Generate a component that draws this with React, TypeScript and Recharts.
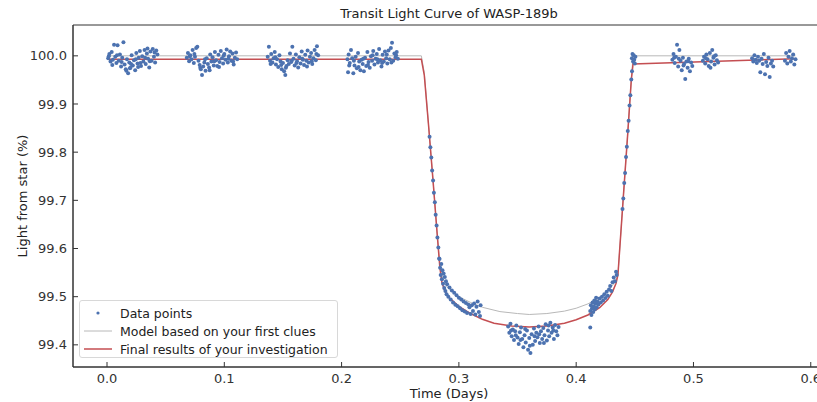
import React from 'react'
import { ComposedChart, Scatter, Line, XAxis, YAxis, ReferenceArea } from 'recharts'

type Pt = [number, number] // [time in days, light from star in %]

// Observed points, one array per observing chunk
const chunkA: Pt[] = [
  [0.001, 99.995], [0.0015, 99.999], [0.002, 100.004], [0.003, 99.988], [0.004, 100.008], [0.0045, 99.981],
  [0.005, 99.992], [0.006, 100.023], [0.007, 99.998], [0.008, 99.985], [0.0085, 100.001], [0.009, 100.022],
  [0.01, 99.99], [0.011, 100.003], [0.012, 99.978], [0.0125, 99.987], [0.013, 99.996], [0.014, 100.028],
  [0.015, 99.982], [0.016, 99.972], [0.0165, 99.969], [0.017, 99.993], [0.018, 99.964], [0.019, 99.986],
  [0.0195, 99.974], [0.02, 99.975], [0.0205, 99.983], [0.021, 100.001], [0.022, 99.98], [0.023, 99.991],
  [0.024, 99.97], [0.0245, 99.993], [0.025, 100.006], [0.026, 99.984], [0.0265, 99.977], [0.027, 99.996],
  [0.028, 100.01], [0.0285, 99.985], [0.029, 99.979], [0.03, 99.999], [0.031, 99.988], [0.032, 100.012],
  [0.0325, 99.996], [0.033, 99.983], [0.034, 100.005], [0.0345, 100.015], [0.035, 99.994], [0.036, 99.976],
  [0.0365, 99.989], [0.037, 100.009], [0.038, 99.99], [0.039, 100.014], [0.04, 99.998], [0.0405, 100.007],
  [0.041, 99.986], [0.042, 100.011], [0.043, 100.003],
]

const chunkB: Pt[] = [
  [0.068, 99.996], [0.069, 100.006], [0.07, 99.989], [0.0705, 99.999], [0.071, 100.001], [0.072, 99.993],
  [0.073, 100.012], [0.074, 99.985], [0.0745, 100.004], [0.075, 99.998], [0.076, 100.016], [0.077, 100.019],
  [0.078, 99.99], [0.079, 99.981], [0.0795, 99.975], [0.08, 99.972], [0.081, 99.96], [0.082, 99.978],
  [0.083, 99.986], [0.0835, 99.993], [0.084, 99.969], [0.085, 99.995], [0.086, 99.983], [0.087, 99.976],
  [0.0875, 99.97], [0.088, 100.003], [0.089, 99.988], [0.09, 99.997], [0.091, 99.98], [0.0915, 99.989],
  [0.092, 100.008], [0.093, 99.991], [0.094, 99.979], [0.095, 100.002], [0.0955, 99.977], [0.096, 99.987],
  [0.097, 100.01], [0.098, 99.995], [0.099, 99.984], [0.0995, 100.0], [0.1, 100.004], [0.101, 99.992],
  [0.102, 100.013], [0.103, 99.986], [0.1035, 99.994], [0.104, 99.999], [0.105, 100.009], [0.106, 99.99],
  [0.107, 100.005], [0.1075, 99.988], [0.108, 99.982], [0.109, 99.996], [0.11, 100.007], [0.111, 99.993],
]

const chunkC: Pt[] = [
  [0.137, 99.998], [0.138, 100.019], [0.139, 99.99], [0.1395, 99.983], [0.14, 100.004], [0.141, 99.986],
  [0.142, 99.995], [0.143, 100.008], [0.1435, 99.997], [0.144, 99.982], [0.145, 99.993], [0.146, 99.977],
  [0.147, 100.001], [0.148, 99.988], [0.1485, 99.981], [0.149, 99.972], [0.15, 99.985], [0.151, 99.968],
  [0.152, 99.96], [0.1525, 99.975], [0.153, 99.979], [0.154, 99.991], [0.155, 99.983], [0.156, 100.005],
  [0.157, 99.987], [0.1575, 99.99], [0.158, 100.019], [0.159, 99.994], [0.16, 99.98], [0.161, 100.003],
  [0.1615, 99.985], [0.162, 99.989], [0.163, 99.976], [0.164, 99.997], [0.165, 99.984], [0.166, 100.009],
  [0.1665, 99.994], [0.167, 99.992], [0.168, 99.981], [0.169, 100.002], [0.17, 99.99], [0.1705, 99.978],
  [0.171, 100.011], [0.172, 99.986], [0.173, 99.998], [0.174, 100.006], [0.1745, 99.989], [0.175, 99.983],
  [0.176, 99.995], [0.177, 100.012], [0.178, 99.991], [0.1785, 100.004], [0.179, 100.02], [0.18, 100.001],
]

const chunkD: Pt[] = [
  [0.205, 99.993], [0.2055, 99.966], [0.206, 100.003], [0.2065, 99.98], [0.207, 99.985], [0.208, 100.012],
  [0.209, 99.995], [0.21, 99.964], [0.2105, 99.99], [0.211, 99.98], [0.212, 99.998], [0.213, 99.974],
  [0.214, 100.006], [0.2145, 99.977], [0.215, 99.988], [0.216, 99.97], [0.217, 99.992], [0.218, 99.983],
  [0.2185, 99.994], [0.219, 99.968], [0.22, 99.996], [0.221, 99.979], [0.222, 100.008], [0.2225, 99.981],
  [0.223, 99.987], [0.224, 99.975], [0.225, 99.999], [0.226, 99.99], [0.2265, 100.001], [0.227, 100.01],
  [0.228, 99.982], [0.229, 99.994], [0.23, 100.004], [0.2305, 99.993], [0.231, 99.986], [0.232, 100.014],
  [0.233, 99.991], [0.234, 99.978], [0.2345, 99.985], [0.235, 100.002], [0.236, 99.988], [0.237, 100.009],
  [0.238, 99.995], [0.2385, 100.003], [0.239, 99.984], [0.24, 100.011], [0.241, 99.993], [0.242, 100.016],
  [0.2425, 99.986], [0.243, 100.027], [0.244, 99.99], [0.245, 100.005], [0.246, 99.997], [0.2465, 100.001],
  [0.247, 100.008], [0.248, 99.994],
]

const ingress: Pt[] = [
  [0.275, 99.832], [0.2757, 99.81], [0.2765, 99.789], [0.2772, 99.762], [0.278, 99.741], [0.2787, 99.716],
  [0.2795, 99.696], [0.2802, 99.67], [0.281, 99.648], [0.2817, 99.623], [0.2825, 99.602], [0.2832, 99.579],
]

const bottomEarly: Pt[] = [
  [0.2835, 99.578], [0.284, 99.56], [0.2845, 99.545], [0.285, 99.568], [0.2855, 99.536], [0.286, 99.555],
  [0.2865, 99.527], [0.287, 99.548], [0.2875, 99.518], [0.288, 99.541], [0.2885, 99.512], [0.289, 99.532],
  [0.2895, 99.505], [0.29, 99.526], [0.291, 99.5], [0.292, 99.519], [0.293, 99.494], [0.294, 99.513],
  [0.295, 99.488], [0.296, 99.508], [0.297, 99.483], [0.298, 99.503], [0.299, 99.48], [0.3, 99.498],
  [0.301, 99.476], [0.302, 99.494], [0.303, 99.472], [0.304, 99.49], [0.305, 99.469], [0.306, 99.487],
  [0.307, 99.466], [0.308, 99.484], [0.309, 99.478], [0.31, 99.464], [0.311, 99.482], [0.312, 99.47],
  [0.313, 99.486], [0.314, 99.463], [0.315, 99.479], [0.316, 99.49], [0.317, 99.468], [0.318, 99.46],
  [0.3185, 99.482],
]

const bottomMid: Pt[] = [
  [0.342, 99.438], [0.343, 99.425], [0.344, 99.444], [0.3445, 99.43], [0.345, 99.418], [0.346, 99.432],
  [0.347, 99.41], [0.348, 99.428], [0.3485, 99.42], [0.349, 99.44], [0.35, 99.415], [0.351, 99.402],
  [0.352, 99.426], [0.3525, 99.41], [0.353, 99.436], [0.354, 99.412], [0.355, 99.395], [0.356, 99.42],
  [0.3565, 99.433], [0.357, 99.405], [0.358, 99.43], [0.359, 99.39], [0.36, 99.414], [0.3605, 99.398],
  [0.361, 99.383], [0.362, 99.422], [0.363, 99.4], [0.364, 99.434], [0.3645, 99.418], [0.365, 99.408],
  [0.366, 99.425], [0.367, 99.416], [0.368, 99.438], [0.3685, 99.422], [0.369, 99.404], [0.37, 99.428],
  [0.371, 99.412], [0.372, 99.435], [0.3725, 99.404], [0.373, 99.42], [0.374, 99.443], [0.375, 99.409],
  [0.376, 99.43], [0.3765, 99.44], [0.377, 99.418], [0.378, 99.446], [0.379, 99.425], [0.38, 99.436],
  [0.3805, 99.43], [0.381, 99.412], [0.382, 99.441], [0.383, 99.428], [0.384, 99.42], [0.385, 99.437],
]

const bottomLate: Pt[] = [
  [0.412, 99.47], [0.412, 99.436], [0.4125, 99.482], [0.413, 99.462], [0.4135, 99.476], [0.414, 99.488],
  [0.4145, 99.468], [0.415, 99.48], [0.4155, 99.492], [0.416, 99.474], [0.4165, 99.486], [0.417, 99.498],
  [0.4175, 99.478], [0.418, 99.49], [0.419, 99.484], [0.42, 99.496], [0.421, 99.488], [0.422, 99.5],
  [0.423, 99.492], [0.424, 99.505], [0.425, 99.497], [0.426, 99.51], [0.427, 99.502], [0.428, 99.515],
  [0.429, 99.522], [0.43, 99.512], [0.431, 99.53], [0.432, 99.54], [0.433, 99.532], [0.434, 99.552],
  [0.4345, 99.545],
]

const egress: Pt[] = [
  [0.4395, 99.682], [0.4402, 99.704], [0.441, 99.736], [0.4417, 99.757], [0.4425, 99.79], [0.4432, 99.811],
  [0.444, 99.844], [0.4447, 99.865], [0.4455, 99.897], [0.4462, 99.918], [0.447, 99.951], [0.4476, 99.968],
]

const postE: Pt[] = [
  [0.4475, 99.995], [0.448, 100.004], [0.4485, 99.988], [0.449, 100.001], [0.4495, 99.992], [0.45, 99.984],
  [0.4505, 99.998],
]

const postF: Pt[] = [
  [0.482, 99.992], [0.483, 100.004], [0.4835, 99.996], [0.484, 99.985], [0.485, 99.998], [0.486, 100.023],
  [0.487, 99.978], [0.4875, 99.994], [0.488, 100.012], [0.489, 99.99], [0.49, 99.97], [0.491, 99.996],
  [0.4915, 99.98], [0.492, 99.983], [0.493, 99.952], [0.494, 99.988], [0.495, 99.975], [0.4955, 99.989],
  [0.496, 99.994], [0.497, 99.968], [0.498, 99.986], [0.499, 99.979],
  [0.508, 99.99], [0.509, 99.998], [0.51, 99.984], [0.5105, 99.995], [0.511, 100.003], [0.512, 99.993],
  [0.513, 99.979], [0.514, 100.006], [0.5145, 99.975], [0.515, 99.988], [0.516, 100.012], [0.517, 99.996],
  [0.5175, 99.999], [0.518, 99.982], [0.519, 100.001], [0.52, 99.991], [0.521, 99.986],
]

const postG: Pt[] = [
  [0.55, 99.995], [0.551, 99.988], [0.552, 100.001], [0.553, 99.992], [0.554, 99.985], [0.555, 99.998],
  [0.556, 99.99], [0.557, 99.966], [0.558, 99.994], [0.559, 99.983], [0.56, 100.004], [0.561, 99.962],
  [0.562, 99.987], [0.563, 99.979], [0.564, 99.996], [0.565, 99.956], [0.566, 99.984], [0.567, 99.99],
  [0.568, 99.978],
]

const postH: Pt[] = [
  [0.578, 99.99], [0.579, 100.006], [0.58, 99.984], [0.581, 99.998], [0.582, 100.01], [0.583, 99.988],
  [0.584, 99.995], [0.585, 100.003], [0.586, 99.982], [0.587, 99.993],
]

// Model curves
const firstCluesModel: Pt[] = [
  [0.0, 100.0], [0.268, 100.0], [0.2705, 99.965], [0.274, 99.86], [0.278, 99.74], [0.2815, 99.63],
  [0.2838, 99.565], [0.286, 99.54], [0.29, 99.52], [0.3, 99.5], [0.31, 99.488], [0.32, 99.478],
  [0.335, 99.469], [0.35, 99.465], [0.36, 99.463], [0.375, 99.465], [0.39, 99.47], [0.4, 99.476],
  [0.41, 99.485], [0.42, 99.498], [0.428, 99.514], [0.433, 99.53], [0.4356, 99.545], [0.44, 99.7],
  [0.444, 99.84], [0.447, 99.95], [0.4485, 100.0], [0.587, 100.0],
]

const finalModel: Pt[] = [
  [0.0, 99.993], [0.268, 99.993], [0.2705, 99.96], [0.274, 99.86], [0.278, 99.74], [0.2815, 99.63],
  [0.2838, 99.56], [0.2855, 99.53], [0.288, 99.512], [0.292, 99.497], [0.3, 99.48], [0.31, 99.465],
  [0.32, 99.453], [0.33, 99.445], [0.345, 99.439], [0.36, 99.437], [0.375, 99.439], [0.39, 99.445],
  [0.4, 99.452], [0.41, 99.462], [0.42, 99.477], [0.427, 99.494], [0.431, 99.51], [0.434, 99.528],
  [0.4356, 99.545], [0.44, 99.7], [0.444, 99.84], [0.447, 99.95], [0.4485, 99.983], [0.587, 99.994],
]

const xTicks = [0.0, 0.1, 0.2, 0.3, 0.4, 0.5, 0.6]
const yTicks = [99.4, 99.5, 99.6, 99.7, 99.8, 99.9, 100.0]

const toRows = (pts: Pt[]) => pts.map(([t, v]) => ({ t, v }))

const dataPoints = toRows([
  ...chunkA, ...chunkB, ...chunkC, ...chunkD, ...ingress, ...bottomEarly, ...bottomMid,
  ...bottomLate, ...egress, ...postE, ...postF, ...postG, ...postH,
])

const X_MIN = -0.029
const X_MAX = 0.613
const Y_MIN = 99.354
const Y_MAX = 100.064

const BLUE = '#4c72b0'
const RED = '#c44e52'
const GRAY = '#b8b8b8'
const INK = '#333333'
const FONT = '"DejaVu Sans", sans-serif'

const Dot = (props: any) => <circle cx={props.cx} cy={props.cy} r={2} fill={BLUE} />

const legendItems = [
  { label: 'Data points', kind: 'dot', color: BLUE },
  { label: 'Model based on your first clues', kind: 'line', color: GRAY },
  { label: 'Final results of your investigation', kind: 'line', color: RED },
]

export default function App() {
  return (
    <div style={{ position: 'fixed', left: 0, top: 0, width: 817, height: 402, overflow: 'hidden', background: '#fff', fontFamily: FONT }}>
      <ComposedChart width={840} height={402} margin={{ top: 25, right: 14, bottom: 0, left: 0 }}>
        <XAxis
          type="number"
          dataKey="t"
          domain={[X_MIN, X_MAX]}
          ticks={xTicks}
          tickFormatter={(v: number) => v.toFixed(1)}
          allowDataOverflow
          height={35}
          stroke={INK}
          tickSize={-5}
          tickMargin={12}
          tick={{ fill: INK, fontSize: 13, fontFamily: FONT }}
        />
        <YAxis
          type="number"
          dataKey="v"
          domain={[Y_MIN, Y_MAX]}
          ticks={yTicks}
          tickFormatter={(v: number) => v.toFixed(1)}
          allowDataOverflow
          width={73}
          stroke={INK}
          tickSize={-5}
          tickMargin={11}
          tick={{ fill: INK, fontSize: 13, fontFamily: FONT }}
        />
        <ReferenceArea x1={X_MIN} x2={X_MAX} y1={Y_MIN} y2={Y_MAX} fill="none" stroke={INK} strokeWidth={1} ifOverflow="visible" />
        <Scatter data={dataPoints} dataKey="v" shape={Dot} isAnimationActive={false} />
        <Line data={toRows(firstCluesModel)} dataKey="v" stroke={GRAY} strokeWidth={1} dot={false} activeDot={false} type="linear" isAnimationActive={false} />
        <Line data={toRows(finalModel)} dataKey="v" stroke={RED} strokeWidth={1.5} dot={false} activeDot={false} type="linear" isAnimationActive={false} />
      </ComposedChart>

      {/* Title and axis labels */}
      <div style={{ position: 'absolute', left: 449, top: 6, transform: 'translateX(-50%)', fontSize: 13, color: '#222', whiteSpace: 'nowrap' }}>
        Transit Light Curve of WASP-189b
      </div>
      <div style={{ position: 'absolute', left: 449, top: 386, transform: 'translateX(-50%)', fontSize: 13, color: '#222', whiteSpace: 'nowrap' }}>
        Time (Days)
      </div>
      <div style={{ position: 'absolute', left: 22, top: 196, transform: 'translate(-50%, -50%) rotate(-90deg)', fontSize: 13, color: '#222', whiteSpace: 'nowrap' }}>
        Light from star (%)
      </div>

      {/* Legend */}
      <div style={{ position: 'absolute', left: 79, top: 300, width: 259, height: 58, border: '1px solid #d8d8d8', borderRadius: 3, background: 'rgba(255,255,255,0.85)', boxSizing: 'border-box' }}>
        {legendItems.map((item, i) => (
          <div key={item.label} style={{ position: 'absolute', left: 0, top: 3 + i * 18, height: 18, display: 'flex', alignItems: 'center', fontSize: 12.5, color: '#222', whiteSpace: 'nowrap' }}>
            <svg width={40} height={18} style={{ flex: 'none' }}>
              {item.kind === 'dot'
                ? <circle cx={18} cy={9} r={1.6} fill={item.color} />
                : <line x1={4} x2={32} y1={9} y2={9} stroke={item.color} strokeWidth={item.color === RED ? 1.5 : 1} />}
            </svg>
            <span>{item.label}</span>
          </div>
        ))}
      </div>
    </div>
  )
}
